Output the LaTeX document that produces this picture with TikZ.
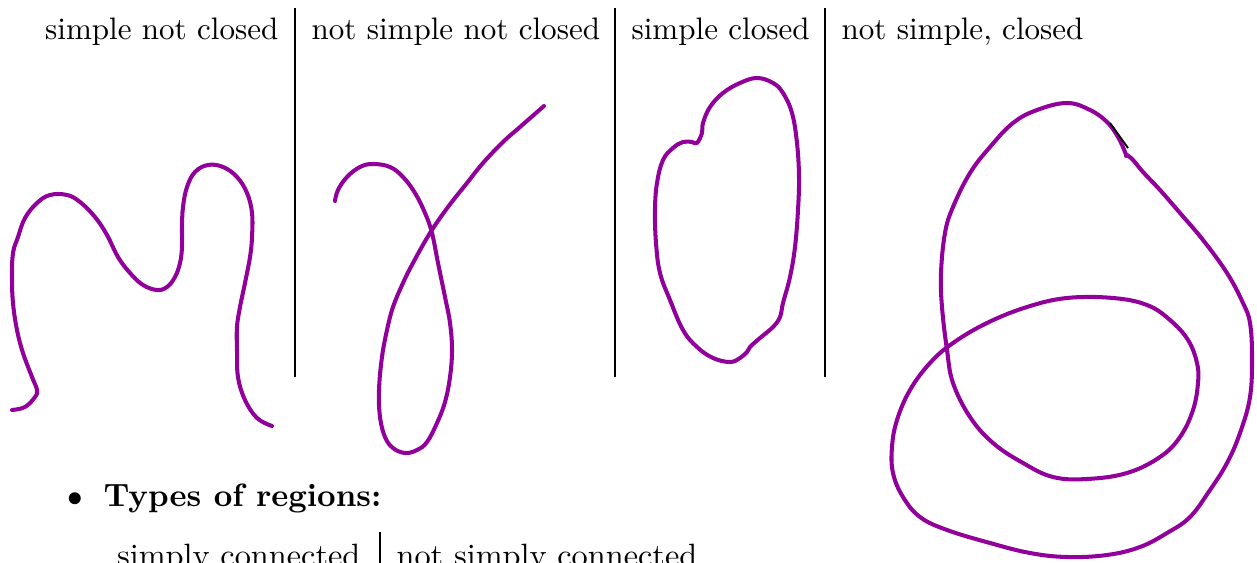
\documentclass[tikz,border=0pt]{standalone}
\usetikzlibrary{positioning}
\definecolor{curvepurple}{RGB}{145,0,155}

\begin{document}
\begin{tikzpicture}[x=0.322pt,y=-0.322pt,
    curve/.style={curvepurple,line width=1.3pt,line cap=round,line join=round},
    sep/.style={black,line width=0.4pt},
    label/.style={anchor=base west,inner sep=0pt},
    bottomtext/.style={label,font=\fontsize{10.4}{12.5}\selectfont}]
  \useasboundingbox (0,0) rectangle (1257,563);
  % column titles and separators
  \node[label,anchor=base east] (title1) at (279,40) {simple not closed};
  \foreach \t/\x [count=\i from 2] in {not simple not closed/311,simple closed/631,{not simple, closed}/841}{
    \node[label] (title\i) at (\x,40) {\t};
  }
  \foreach \x in {295,615,825}{
    \draw[sep] (\x,8) -- (\x,377);
  }
  % simple not closed
  \draw[curve] plot[smooth,tension=0.65] coordinates {(12,410) (25,407) (35,397) (37,390) (32,377) (23,353) (17,330) (13,303) (12,277) (13,253) (18,237) (25,218) (37,203) (50,195) (67,195) (80,202) (95,217) (107,235) (118,257) (130,273) (143,285) (157,290) (167,287) (175,277) (180,263) (182,247) (182,227) (183,207) (187,187) (195,172) (208,165) (223,167) (237,177) (247,193) (252,213) (252,237) (250,257) (245,283) (240,307) (237,327) (237,350) (238,377) (245,400) (257,418) (272,426)};
  % not simple not closed
  \draw[curve] plot[smooth,tension=0.65] coordinates {(335,201) (338,190) (347,177) (360,167) (373,164) (390,167) (403,177) (415,193) (425,213) (432,233) (438,263) (445,297) (450,323) (452,350) (450,377) (445,402) (437,423) (427,442) (417,450) (405,453) (393,448) (385,437) (380,417) (379,390) (382,357) (387,330) (393,307) (403,283) (413,263) (430,233) (448,207) (467,183) (483,163) (503,142) (520,127) (544,106)};
  % simple closed
  \draw[curve] plot[smooth cycle,tension=0.65] coordinates {(697,143) (702,133) (703,123) (710,107) (723,93) (740,83) (757,78) (773,83) (783,93) (792,113) (797,143) (799,177) (798,210) (795,247) (790,277) (783,303) (780,317) (773,327) (760,338) (750,347) (747,352) (740,358) (730,362) (713,358) (697,347) (683,330) (670,300) (660,273) (656,243) (655,210) (657,183) (663,160) (673,148) (683,142) (692,142)};
  % not simple, closed
  \draw[curve] plot[smooth,tension=0.65] coordinates {(1127,155) (1133,160) (1143,172) (1160,190) (1180,213) (1203,240) (1227,273) (1243,303) (1250,323) (1252,357) (1250,397) (1240,433) (1227,463) (1210,490) (1190,517) (1167,533) (1140,547) (1107,555) (1067,557) (1030,553) (990,543) (947,530) (920,517) (903,497) (893,473) (892,447) (897,420) (910,390) (930,363) (953,343) (987,323) (1027,307) (1067,298) (1113,298) (1147,305) (1170,320) (1188,340) (1197,363) (1198,383) (1193,410) (1180,437) (1160,457) (1127,473) (1087,479) (1053,477) (1023,463) (993,443) (970,417) (953,383) (947,350) (942,307) (941,273) (945,233) (953,207) (970,173) (990,147) (1013,123) (1037,110) (1067,103) (1090,110) (1107,122) (1118,137) (1125,152) (1126,156)};
  \draw[black,line width=0.6pt] (1110,123) -- (1128,148);
  % types of regions
  \node[bottomtext,anchor=base] (bullet) at (75,507) {$\bullet$};
  \node[bottomtext] (types) at (103,507) {\textbf{Types of regions:}};
  \node[bottomtext,anchor=base east] (simply) at (361,566) {simply connected};
  \node[bottomtext] (notsimply) at (396,566) {not simply connected};
  \draw[sep] (380,532) -- (380,563);
\end{tikzpicture}
\end{document}
